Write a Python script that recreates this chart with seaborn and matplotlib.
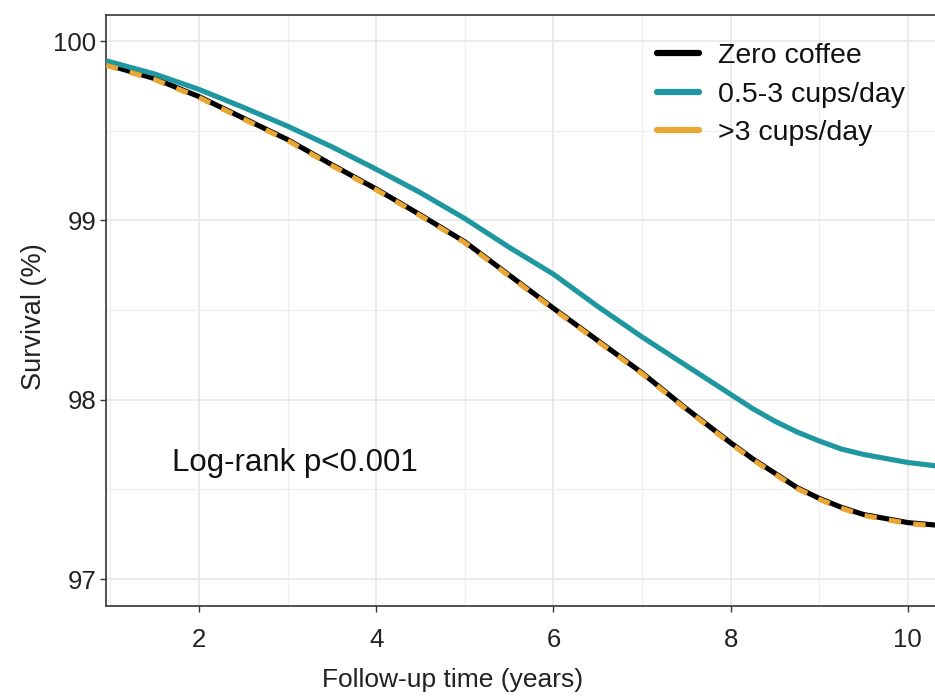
import seaborn as sns
import pandas as pd
import matplotlib.pyplot as plt
from matplotlib.ticker import MultipleLocator

# values
time = [0.95, 1.5, 2, 2.5, 3, 3.5, 4, 4.5, 5, 5.5, 6, 6.5, 7, 7.5, 8, 8.25, 8.5, 8.75,
        9, 9.25, 9.5, 10, 10.34]
zero_coffee = [99.87, 99.79, 99.69, 99.57, 99.45, 99.31, 99.175, 99.03, 98.88, 98.695,
               98.51, 98.33, 98.15, 97.95, 97.76, 97.67, 97.59, 97.51, 97.45, 97.40,
               97.36, 97.315, 97.30]
mid_cups = [99.89, 99.816, 99.73, 99.63, 99.525, 99.41, 99.285, 99.154, 99.01, 98.85,
            98.70, 98.52, 98.35, 98.19, 98.03, 97.95, 97.88, 97.82, 97.77, 97.725,
            97.695, 97.65, 97.63]
high_cups = [99.865, 99.785, 99.685, 99.565, 99.445, 99.305, 99.17, 99.025, 98.875, 98.69,
             98.505, 98.325, 98.145, 97.945, 97.755, 97.665, 97.585, 97.505, 97.445, 97.395,
             97.355, 97.31, 97.295]

groups = ["Zero coffee", "0.5-3 cups/day", ">3 cups/day"]
colors = ["#000000", "#1E97A0", "#E8A635"]

sns.set_theme(style="white")
plt.rcParams['font.family'] = ['Liberation Sans', 'DejaVu Sans']

fig = plt.figure(figsize=(9.35, 6.96), dpi=100)
ax = fig.add_axes([106 / 935, 1 - 606 / 696, 832 / 935, 591 / 696])

df = pd.DataFrame({"time": time * 3,
                   "survival": zero_coffee + mid_cups + high_cups,
                   "group": [groups[0]] * len(time) + [groups[1]] * len(time) + [groups[2]] * len(time)})

for g, c in zip(groups, colors):
    sns.lineplot(data=df[df["group"] == g], x="time", y="survival", color=c,
                 lw=3.7, label=g, ax=ax, zorder=3)
# orange line dashed over the black one
ax.lines[2].set_dashes([2.4, 2.4])

ax.set_xlim(0.95, 10.34)
ax.set_ylim(96.85, 100.145)
ax.xaxis.set_major_locator(MultipleLocator(2))
ax.xaxis.set_minor_locator(MultipleLocator(1))
ax.yaxis.set_major_locator(MultipleLocator(1))
ax.yaxis.set_minor_locator(MultipleLocator(0.5))
ax.grid(which="major", color="#E6E6E6", lw=1.1)
ax.grid(which="minor", color="#EFEFEF", lw=0.9)
ax.set_axisbelow(True)

for side in ["left", "bottom", "top"]:
    ax.spines[side].set_color("#333333")
    ax.spines[side].set_linewidth(1.2)
ax.spines["right"].set_visible(False)

ax.tick_params(axis="x", which="major", length=4, width=1, color="#333333",
               labelsize=18.5, pad=12, labelcolor="#222222", bottom=True)
ax.tick_params(axis="y", which="major", length=4, width=1, color="#333333",
               labelsize=18.5, pad=3, labelcolor="#222222", left=True)
ax.tick_params(which="minor", length=0)

ax.set_xlabel("Follow-up time (years)", fontsize=19, color="#222222")
ax.set_ylabel("Survival (%)", fontsize=19.5, color="#222222")
ax.xaxis.set_label_coords(0.417, -0.126)
ax.xaxis.label.set_va("center")
ax.yaxis.set_label_coords(-0.087, 0.489)
ax.yaxis.label.set_va("center")

ax.text(1.69, 97.65, "Log-rank p<0.001", fontsize=22.5, ha="left", va="center", color="#111111")

leg = ax.legend(loc="upper left", bbox_to_anchor=(0.662, 0.953), frameon=False,
                fontsize=20.5, handlelength=1.5, handletextpad=0.65, labelspacing=0.45,
                borderpad=0, borderaxespad=0)
for line in leg.get_lines():
    line.set_linestyle("-")
    line.set_linewidth(4.5)
for t in leg.get_texts():
    t.set_color("#111111")

fig.savefig("out.png", dpi=100)
